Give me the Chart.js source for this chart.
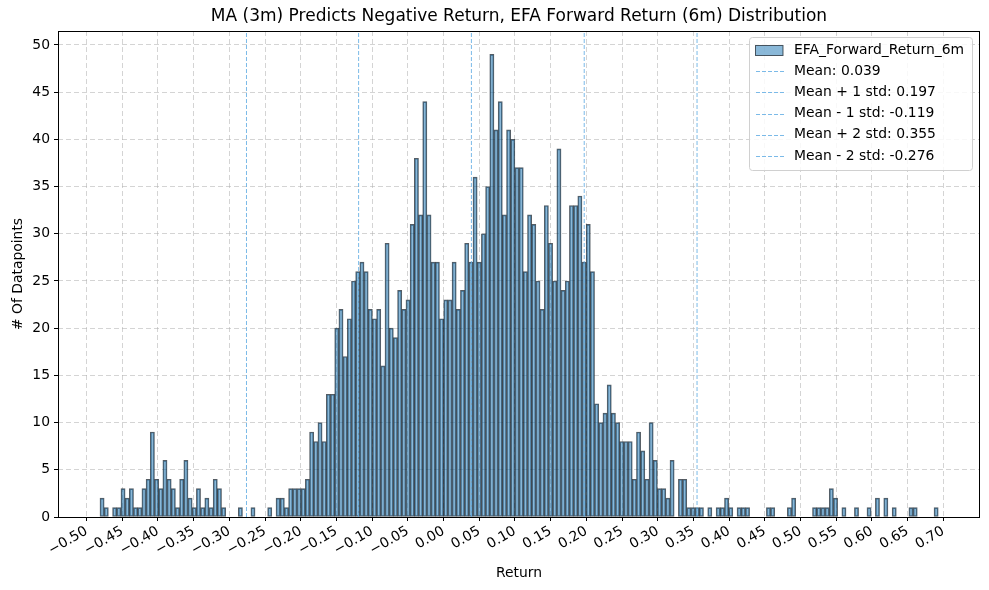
<!DOCTYPE html>
<html>
<head>
<meta charset="utf-8">
<script src="https://cdn.jsdelivr.net/npm/chart.js@4.4.1/dist/chart.umd.min.js"></script>
<style>
  html, body { margin: 0; padding: 0; background: #fff; }
  #wrap { width: 989px; height: 590px; }
</style>
</head>
<body>
<div id="wrap"><canvas id="c" width="989" height="590"></canvas></div>
<script>
// ---- data ----
const binStart = -0.4812;
const binWidth = 0.00587;
const counts = [
  2,1,0,1,1,3,2,3,1,1, 3,4,9,4,3,6,4,3,1,4,
  6,2,1,3,1,2,1,4,3,1, 0,0,0,1,0,0,1,0,0,0,
  1,0,2,2,1,3,3,3,3,4, 9,8,10,8,13,13,20,22,17,21,
  25,26,27,26,22,21,22,16,29,20, 19,24,22,23,31,38,32,44,32,27,
  27,21,23,23,27,22,24,29,27,36, 27,30,35,49,41,44,32,41,40,37,
  37,26,32,31,25,22,33,29,25,39, 24,25,33,33,34,27,31,26,12,10,
  11,14,11,10,8,8,8,4,9,7, 4,10,6,3,3,2,6,0,4,4,
  1,1,1,1,0,1,0,1,1,2, 1,0,1,1,1,0,0,0,0,1,
  1,0,0,0,1,2,0,0,0,0, 1,1,1,1,3,2,0,1,0,0,
  1,0,0,1,0,2,0,2,0,1, 0,0,0,1,1,0,0,0,0,1
];
const seriesLabel = 'EFA_Forward_Return_6m';
const lineLabels = ['Mean: 0.039', 'Mean + 1 std: 0.197', 'Mean - 1 std: -0.119', 'Mean + 2 std: 0.355', 'Mean - 2 std: -0.276'];
const lineValues = [0.039, 0.197, -0.119, 0.355, -0.276];
const xTickValues = [-0.50,-0.45,-0.40,-0.35,-0.30,-0.25,-0.20,-0.15,-0.10,-0.05,0.00,0.05,0.10,0.15,0.20,0.25,0.30,0.35,0.40,0.45,0.50,0.55,0.60,0.65,0.70];
const yTickValues = [0,5,10,15,20,25,30,35,40,45,50];
const xMin = -0.540, xMax = 0.7513;
const yMin = 0, yMax = 51.48;
const titleText = 'MA (3m) Predicts Negative Return, EFA Forward Return (6m) Distribution';
const xTitle = 'Return';
const yTitle = '# Of Datapoints';

// ---- build ----
const FONT = 'DejaVu Sans';
const FS = 13.9;
const barColor = 'rgba(31,119,180,0.52)';
const barEdge = 'rgba(20,30,40,0.72)';
const lineColor = 'rgba(100,174,228,0.85)';
const gridColor = 'rgba(176,176,176,0.55)';

const histData = counts.map((c, i) => ({ x: binStart + binWidth * (i + 0.5), y: c === 0 ? null : c }));

const datasets = [{
  type: 'bar',
  label: seriesLabel,
  data: histData,
  backgroundColor: barColor,
  borderColor: barEdge,
  borderWidth: 1,
  borderSkipped: false,
  barPercentage: 1.0,
  categoryPercentage: 1.0,
  grouped: false,
  order: 2
}];
lineValues.forEach((v, i) => {
  datasets.push({
    type: 'line',
    label: lineLabels[i],
    data: [{ x: v, y: yMin }, { x: v, y: yMax }],
    borderColor: lineColor,
    borderWidth: 1,
    borderDash: [4, 2],
    pointRadius: 0,
    fill: false,
    order: 1
  });
});

const fmt = v => {
  const s = Math.abs(v).toFixed(2);
  return (v < -1e-9 ? '\u2212' : '') + s;
};

const framePlugin = {
  id: 'frame',
  afterDraw(chart) {
    const { ctx, chartArea: a } = chart;
    ctx.save();
    ctx.strokeStyle = '#000';
    ctx.lineWidth = 1;
    ctx.strokeRect(Math.round(a.left) + 0.5, Math.round(a.top) + 0.5, Math.round(a.right - a.left) - 1, Math.round(a.bottom - a.top));
    // title
    ctx.fillStyle = '#000';
    ctx.font = '17px ' + FONT;
    ctx.textAlign = 'center';
    ctx.textBaseline = 'middle';
    ctx.fillText(titleText, (a.left + a.right) / 2, 17);
    // legend
    const bx = 749.5, by = 37.5, bw = 223, bh = 133;
    ctx.fillStyle = 'rgba(255,255,255,0.85)';
    ctx.strokeStyle = '#d0d0d0';
    ctx.lineWidth = 1;
    ctx.beginPath();
    if (ctx.roundRect) ctx.roundRect(bx, by, bw, bh, 3); else ctx.rect(bx, by, bw, bh);
    ctx.fill();
    ctx.stroke();
    ctx.font = FS + 'px ' + FONT;
    ctx.textAlign = 'left';
    ctx.textBaseline = 'middle';
    const rowY = [50.5, 71, 92.3, 113.6, 134.8, 156];
    ctx.fillStyle = barColor;
    ctx.fillRect(755.5, 45.5, 27.5, 10);
    ctx.strokeStyle = barEdge;
    ctx.strokeRect(755.5, 45.5, 27.5, 10);
    ctx.fillStyle = '#000';
    ctx.fillText(seriesLabel, 794, rowY[0]);
    lineLabels.forEach((t, i) => {
      const y = Math.round(rowY[i + 1]) + 0.5;
      ctx.strokeStyle = lineColor;
      ctx.setLineDash([4, 2]);
      ctx.beginPath();
      ctx.moveTo(756, y);
      ctx.lineTo(784, y);
      ctx.stroke();
      ctx.setLineDash([]);
      ctx.fillStyle = '#000';
      ctx.fillText(t, 794, rowY[i + 1]);
    });
    ctx.restore();
  }
};

new Chart(document.getElementById('c'), {
  type: 'bar',
  data: { datasets },
  plugins: [framePlugin],
  options: {
    responsive: false,
    animation: false,
    devicePixelRatio: 1,
    layout: { padding: { top: 31, right: 9, left: 0, bottom: 0 } },
    plugins: { legend: { display: false }, title: { display: false }, tooltip: { enabled: false } },
    scales: {
      x: {
        type: 'linear',
        min: xMin, max: xMax,
        offset: false,
        afterBuildTicks(s) { s.ticks = xTickValues.map(v => ({ value: v })); },
        afterFit(s) { s.height = 73; },
        ticks: {
          callback: v => fmt(v),
          minRotation: 30, maxRotation: 30,
          autoSkip: false,
          color: '#000',
          font: { family: FONT, size: FS },
          padding: 2
        },
        grid: { offset: false, color: gridColor, lineWidth: 1, tickColor: '#000', tickLength: 4, drawTicks: true },
        border: { display: false, color: '#000', dash: [5, 3] },
        title: { display: true, text: xTitle, color: '#000', font: { family: FONT, size: FS }, padding: { top: 0, bottom: 8 } }
      },
      y: {
        type: 'linear',
        min: yMin, max: yMax,
        afterBuildTicks(s) { s.ticks = yTickValues.map(v => ({ value: v })); },
        afterFit(s) { s.width = 58; },
        ticks: { color: '#000', font: { family: FONT, size: FS }, padding: 4, callback: v => String(v) },
        grid: { offset: false, color: gridColor, lineWidth: 1, tickColor: '#000', tickLength: 4, drawTicks: true },
        border: { display: false, color: '#000', dash: [5, 3] },
        title: { display: true, text: yTitle, color: '#000', font: { family: FONT, size: FS }, padding: { top: 10, bottom: 0 } }
      }
    }
  }
});
</script>
</body>
</html>
